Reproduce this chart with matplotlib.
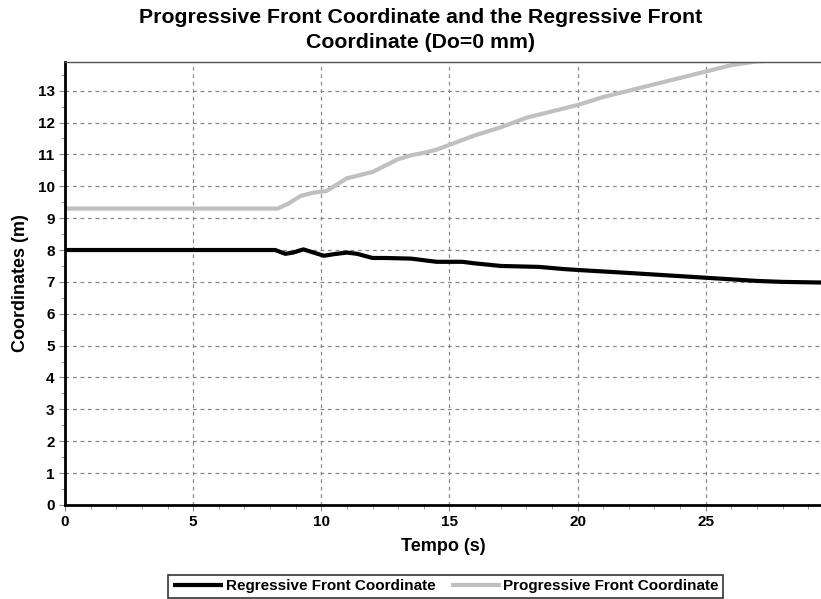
import matplotlib
matplotlib.use("Agg")
import matplotlib.pyplot as plt
from matplotlib.ticker import MultipleLocator

plt.rcParams['font.family'] = ['Liberation Sans', 'DejaVu Sans']

t_prog = [0, 8.3, 8.7, 9.2, 9.7, 10.2, 10.6, 11.0, 11.5, 12.0, 12.5, 13.0, 13.5, 14.0, 14.5, 15.0,
          16.0, 17.0, 18.0, 19.0, 20.0, 21.0, 22.0, 23.0, 24.0, 25.0, 26.0, 27.0, 28.0, 29.5]
prog = [9.3, 9.3, 9.45, 9.7, 9.8, 9.85, 10.05, 10.25, 10.35, 10.45, 10.65, 10.85, 10.97, 11.05, 11.15, 11.3,
        11.6, 11.85, 12.15, 12.35, 12.55, 12.8, 13.0, 13.2, 13.4, 13.6, 13.8, 13.92, 13.95, 13.95]

t_reg = [0, 8.2, 8.6, 8.9, 9.3, 9.7, 10.1, 10.5, 11.0, 11.4, 12.0, 12.5, 13.5, 14.5, 15.5, 16.0, 17.0,
         18.5, 19.5, 20.5, 22.0, 24.0, 26.0, 27.0, 28.0, 29.5]
reg = [8.0, 8.0, 7.88, 7.92, 8.02, 7.92, 7.82, 7.87, 7.92, 7.88, 7.75, 7.75, 7.73, 7.63, 7.63, 7.58, 7.5,
       7.47, 7.4, 7.35, 7.28, 7.18, 7.08, 7.03, 7.0, 6.98]

fig = plt.figure(figsize=(8.21, 5.99), dpi=100)
ax = fig.add_axes([0.0792, 0.157, 0.9208, 0.7395])

ax.plot(t_reg, reg, color='black', lw=3.0, label='Regressive Front Coordinate', solid_capstyle='butt')
ax.plot(t_prog, prog, color='#c0c0c0', lw=3.0, label='Progressive Front Coordinate', solid_capstyle='butt')

ax.set_xlim(0, 29.5)
ax.set_ylim(0, 13.9)
ax.xaxis.set_major_locator(MultipleLocator(5))
ax.xaxis.set_minor_locator(MultipleLocator(1))
ax.yaxis.set_major_locator(MultipleLocator(1))
ax.yaxis.set_minor_locator(MultipleLocator(0.5))
ax.grid(True, which='major', color='#888888', linestyle=(0, (3, 3)), lw=0.9)

for s in ['left', 'bottom']:
    ax.spines[s].set_linewidth(2)
    ax.spines[s].set_color('black')
ax.spines['top'].set_color('#555555')
ax.spines['top'].set_linewidth(1)
ax.spines['right'].set_visible(False)

ax.tick_params(which='both', direction='out', color='#888888')
ax.tick_params(which='major', length=4, labelsize=11)
ax.tick_params(which='minor', length=3)
for lbl in ax.get_xticklabels() + ax.get_yticklabels():
    lbl.set_fontweight('bold')

ax.set_xlabel('Tempo (s)', fontsize=13, fontweight='bold', labelpad=6)
ax.set_ylabel('Coordinates (m)', fontsize=13, fontweight='bold', labelpad=6)
fig.text(0.512, 1 - 8 / 599, 'Progressive Front Coordinate and the Regressive Front\nCoordinate (Do=0 mm)',
         fontsize=15.3, fontweight='bold', ha='center', va='top', linespacing=1.38)

leg = fig.legend(loc='center', bbox_to_anchor=(0.543, 0.0215), ncol=2, frameon=True, fancybox=False,
                 edgecolor='black', prop={'weight': 'bold', 'size': 11}, handlelength=3.3,
                 handletextpad=0.15, columnspacing=1.0, borderpad=0.3, borderaxespad=0)
leg.get_frame().set_linewidth(1.2)

fig.savefig('out.png', dpi=100)
